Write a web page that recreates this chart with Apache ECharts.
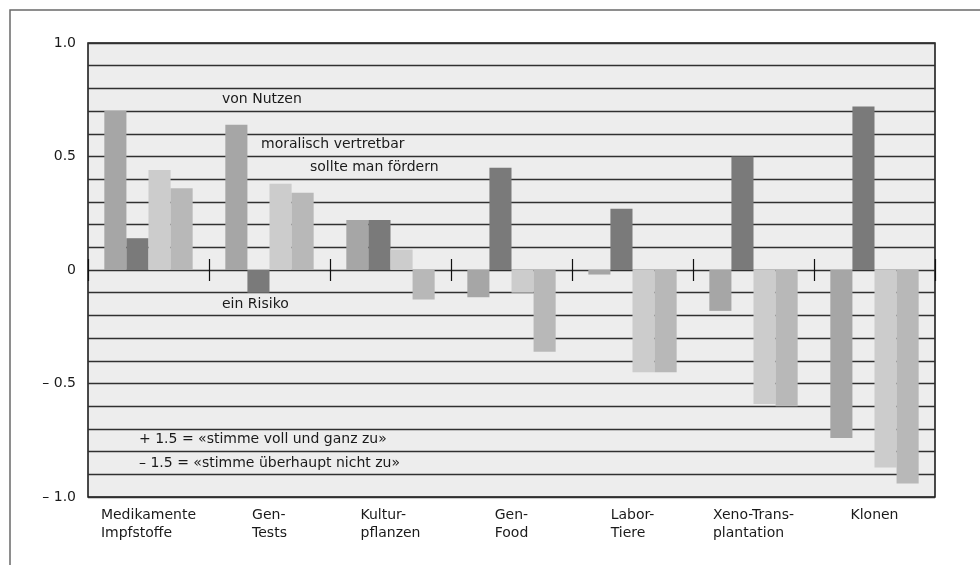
<!DOCTYPE html>
<html>
<head>
<meta charset="utf-8">
<script src="https://cdn.jsdelivr.net/npm/echarts@6/dist/echarts.min.js"></script>
<style>html,body{margin:0;padding:0;background:#fff;}#c{width:980px;height:565px;}</style>
</head>
<body>
<div id="c"></div>
<script>
const categories = ['Medikamente\nImpfstoffe', 'Gen-\nTests', 'Kultur-\npflanzen', 'Gen-\nFood', 'Labor-\nTiere', 'Xeno-Trans-\nplantation', 'Klonen'];
const seriesNames = ['von Nutzen', 'ein Risiko', 'moralisch vertretbar', 'sollte man fördern'];
const vonNutzen = [0.70, 0.64, 0.22, -0.12, -0.02, -0.18, -0.74];
const einRisiko = [0.14, -0.10, 0.22, 0.45, 0.27, 0.50, 0.72];
const moralischVertretbar = [0.44, 0.38, 0.09, -0.10, -0.45, -0.59, -0.87];
const sollteManFoerdern = [0.36, 0.34, -0.13, -0.36, -0.45, -0.60, -0.94];
const yTickValues = [1, 0.5, 0, -0.5, -1];
const yTickLabels = ['1.0', '0.5', '0', '\u2013 0.5', '\u2013 1.0'];
const noteLines = ['+ 1.5 = \u00abstimme voll und ganz zu\u00bb', '\u2013 1.5 = \u00abstimme \u00fcberhaupt nicht zu\u00bb'];

const FONT = 'DejaVu Sans';
const TXT = '#1a1a1a';
const colors = ['#a6a6a6', '#7a7a7a', '#cccccc', '#b8b8b8'];
const seriesData = [vonNutzen, einRisiko, moralischVertretbar, sollteManFoerdern];

const chart = echarts.init(document.getElementById('c'), null, {renderer: 'canvas'});

const tickAxisBase = {
  type: 'category', data: categories, position: 'bottom', gridIndex: 0,
  axisLine: {show: false, onZero: true, onZeroAxisIndex: 0},
  axisLabel: {show: false}, splitLine: {show: false},
  axisTick: {show: true, interval: 0, length: 11, lineStyle: {color: '#111', width: 1.2}}
};

const option = {
  backgroundColor: '#ffffff',
  animation: false,
  grid: {left: 88, right: 45, top: 43, bottom: 68, show: true, backgroundColor: '#ededed', borderColor: '#111', borderWidth: 1.5},
  xAxis: [
    {
      type: 'category', data: categories, position: 'bottom',
      axisLine: {show: false, onZero: false}, axisTick: {show: false},
      axisLabel: {
        interval: 0, margin: 9, align: 'center',
        formatter: function (v) { return v.split('\n').map(function (s) { return '{a|' + s + '}'; }).join('\n'); },
        rich: {a: {fontFamily: FONT, fontSize: 14, lineHeight: 18, color: TXT, align: 'left'}}
      }
    },
    Object.assign({}, tickAxisBase, {axisTick: Object.assign({}, tickAxisBase.axisTick, {inside: true})}),
    Object.assign({}, tickAxisBase, {axisTick: Object.assign({}, tickAxisBase.axisTick, {inside: false})})
  ],
  yAxis: {
    type: 'value', min: -1, max: 1, interval: 0.1,
    axisLine: {show: false}, axisTick: {show: false},
    splitLine: {show: true, lineStyle: {color: '#303030', width: 1.4}},
    axisLabel: {
      margin: 12, fontFamily: FONT, fontSize: 14, color: TXT,
      formatter: function (v) {
        const r = Math.round(v * 10) / 10;
        const i = yTickValues.findIndex(function (t) { return Math.abs(t - r) < 1e-6; });
        return i >= 0 ? yTickLabels[i] : '';
      }
    }
  },
  series: seriesNames.map(function (name, i) {
    return {
      name: name, type: 'bar', xAxisIndex: 0, data: seriesData[i], z: 5,
      barGap: '0%', barCategoryGap: '27%',
      itemStyle: {color: colors[i]}
    };
  }),
  graphic: [
    {type: 'rect', silent: true, z: -10, shape: {x: 10, y: 10, width: 1000, height: 600}, style: {fill: 'none', stroke: '#6a6a6a', lineWidth: 1.5}},
    {type: 'text', left: 222, top: 92, style: {text: seriesNames[0], font: '14px "DejaVu Sans"', fill: TXT}, z: 100},
    {type: 'text', left: 261, top: 137, style: {text: seriesNames[2], font: '14px "DejaVu Sans"', fill: TXT}, z: 100},
    {type: 'text', left: 310, top: 160, style: {text: seriesNames[3], font: '14px "DejaVu Sans"', fill: TXT}, z: 100},
    {type: 'text', left: 222, top: 297, style: {text: seriesNames[1], font: '14px "DejaVu Sans"', fill: TXT}, z: 100},
    {type: 'text', left: 139, top: 432, style: {text: noteLines[0], font: '14px "DejaVu Sans"', fill: TXT}, z: 100},
    {type: 'text', left: 139, top: 456, style: {text: noteLines[1], font: '14px "DejaVu Sans"', fill: TXT}, z: 100}
  ]
};
chart.setOption(option);
</script>
</body>
</html>
